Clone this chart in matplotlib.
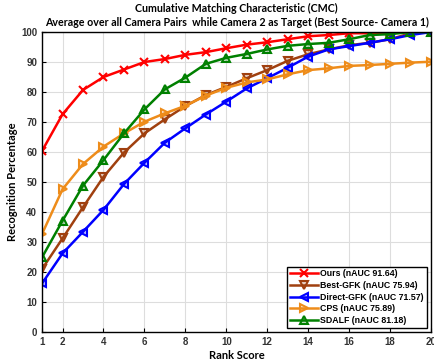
import matplotlib
matplotlib.use("Agg")
import matplotlib.pyplot as plt
import numpy as np

ranks = np.arange(1, 21)
ours = [60.4, 72.6, 80.7, 85.0, 87.5, 90.0, 91.0, 92.4, 93.3, 94.6, 95.8, 96.6, 97.6, 98.6, 99.0, 99.6, 99.6, 99.8, 100, 100]
best_gfk = [21.0, 31.2, 41.6, 51.7, 59.8, 66.2, 70.9, 75.3, 79.0, 81.7, 84.6, 87.3, 90.4, 92.6, 94.2, 95.6, 96.4, 97.6, 99.6, 100]
direct_gfk = [16.2, 26.2, 33.4, 40.7, 49.3, 56.4, 63.1, 67.9, 72.5, 76.8, 81.2, 84.6, 88.1, 91.8, 94.2, 95.3, 96.4, 97.6, 99.0, 100]
cps = [32.7, 47.6, 56.0, 61.8, 66.2, 70.1, 72.9, 75.4, 78.8, 81.4, 83.2, 84.2, 85.9, 87.3, 87.9, 88.7, 89.0, 89.4, 89.8, 90.1]
sdalf = [24.9, 37.1, 48.8, 57.3, 66.2, 74.2, 80.9, 84.8, 89.4, 91.4, 92.7, 94.2, 95.4, 96.0, 96.4, 97.6, 99.0, 99.3, 100, 100]

labels = ["Ours (nAUC 91.64)", "Best-GFK (nAUC 75.94)", "Direct-GFK (nAUC 71.57)",
          "CPS (nAUC 75.89)", "SDALF (nAUC 81.18)"]
series = [ours, best_gfk, direct_gfk, cps, sdalf]
colors = ["#ff0000", "#a0400f", "#0000ff", "#ee8c1a", "#008000"]
markers = ["x", "v", "<", ">", "^"]

plt.rcParams['font.family'] = ['Liberation Sans', 'DejaVu Sans']

fig = plt.figure(figsize=(4.34, 3.6), dpi=100)
ax = fig.add_axes([0.097, 0.078, 0.896, 0.833])

for vals, lab, c, m in zip(series, labels, colors, markers):
    ax.plot(ranks, vals, color=c, marker=m, markersize=5.5, linewidth=1.8,
            markerfacecolor=c if m == "x" else (*matplotlib.colors.to_rgb(c), 0.25),
            markeredgecolor=c, markeredgewidth=1.5, label=lab)

ax.set_xlim(1, 20)
ax.set_ylim(0, 100)
ax.set_xticks([1, 2, 4, 6, 8, 10, 12, 14, 16, 18, 20])
ax.set_yticks(np.arange(0, 101, 10))
ax.tick_params(labelsize=7, direction='in', length=3)
for t in ax.get_xticklabels() + ax.get_yticklabels():
    t.set_fontweight('bold')
    t.set_color('#333333')
ax.grid(True, color='#dddddd', linewidth=0.8)
ax.set_axisbelow(True)
for s in ax.spines.values():
    s.set_linewidth(1.0)

ax.set_xlabel("Rank Score", fontsize=8, fontweight='bold', family='Lato', labelpad=2)
ax.set_ylabel("Recognition Percentage", fontsize=8, fontweight='bold', family='Lato', labelpad=2)
ax.set_title("Cumulative Matching Characteristic (CMC)\nAverage over all Camera Pairs  while Camera 2 as Target (Best Source- Camera 1)",
             fontsize=7.7, fontweight='bold', family='Lato', pad=4, linespacing=1.35)

leg = ax.legend(loc='lower right', prop={'weight': 'bold', 'size': 6.3},
                fancybox=False, edgecolor='black', framealpha=1, handlelength=3.2,
                borderpad=0.3, labelspacing=0.3, handletextpad=0.3)
leg.get_frame().set_linewidth(1.0)

fig.savefig("out.png", dpi=100)
